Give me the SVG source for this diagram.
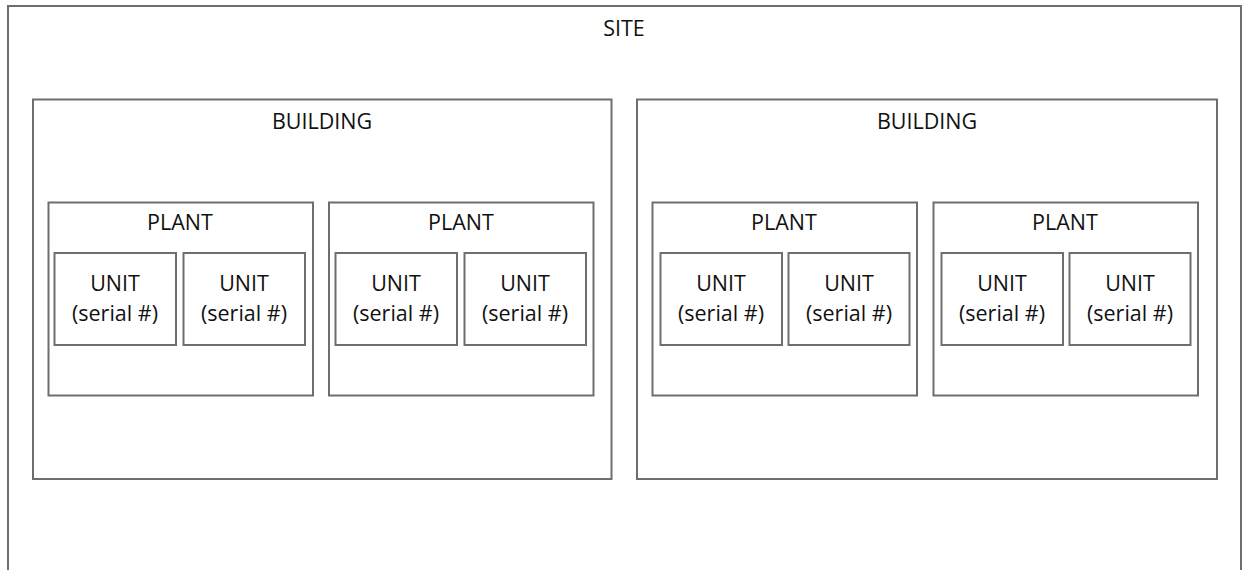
<svg xmlns="http://www.w3.org/2000/svg" width="1242" height="570" viewBox="0 0 1242 570">
<style>
rect{fill:none;stroke:#6e6e6e;stroke-width:2}
text{font-family:"Open Sans","Liberation Sans",sans-serif;font-size:21.5px;fill:#111;text-anchor:middle}
</style>
<rect x="0" y="0" width="1242" height="570" style="fill:#fff;stroke:none"/>
<g id="site">
<rect x="8" y="6" width="1233" height="570"/>
<text x="624" y="36">SITE</text>
</g>
<g id="building1">
<rect x="33" y="99.5" width="578.5" height="379.5"/>
<text x="322" y="129">BUILDING</text>
</g>
<g id="building2">
<rect x="637" y="99.5" width="580" height="379.5"/>
<text x="927" y="129">BUILDING</text>
</g>
<g id="plant1">
<rect x="48.5" y="202.5" width="264.5" height="193"/>
<text x="180" y="230">PLANT</text>
</g>
<g id="plant2">
<rect x="329" y="202.5" width="264.5" height="193"/>
<text x="461" y="230">PLANT</text>
</g>
<g id="plant3">
<rect x="652.5" y="202.5" width="264.5" height="193"/>
<text x="784" y="230">PLANT</text>
</g>
<g id="plant4">
<rect x="933.5" y="202.5" width="264.5" height="193"/>
<text x="1065" y="230">PLANT</text>
</g>
<g id="unit1"><rect x="54.5" y="253" width="121.5" height="92"/><text x="115" y="291">UNIT</text><text x="115" y="321">(serial #)</text></g>
<g id="unit2"><rect x="183.5" y="253" width="121.5" height="92"/><text x="244" y="291">UNIT</text><text x="244" y="321">(serial #)</text></g>
<g id="unit3"><rect x="335.5" y="253" width="121.5" height="92"/><text x="396" y="291">UNIT</text><text x="396" y="321">(serial #)</text></g>
<g id="unit4"><rect x="464.5" y="253" width="121.5" height="92"/><text x="525" y="291">UNIT</text><text x="525" y="321">(serial #)</text></g>
<g id="unit5"><rect x="660.5" y="253" width="121.5" height="92"/><text x="721" y="291">UNIT</text><text x="721" y="321">(serial #)</text></g>
<g id="unit6"><rect x="788.5" y="253" width="121" height="92"/><text x="849" y="291">UNIT</text><text x="849" y="321">(serial #)</text></g>
<g id="unit7"><rect x="941.5" y="253" width="121.5" height="92"/><text x="1002" y="291">UNIT</text><text x="1002" y="321">(serial #)</text></g>
<g id="unit8"><rect x="1069.5" y="253" width="121" height="92"/><text x="1130" y="291">UNIT</text><text x="1130" y="321">(serial #)</text></g>
<g id="connectors"></g>
</svg>
